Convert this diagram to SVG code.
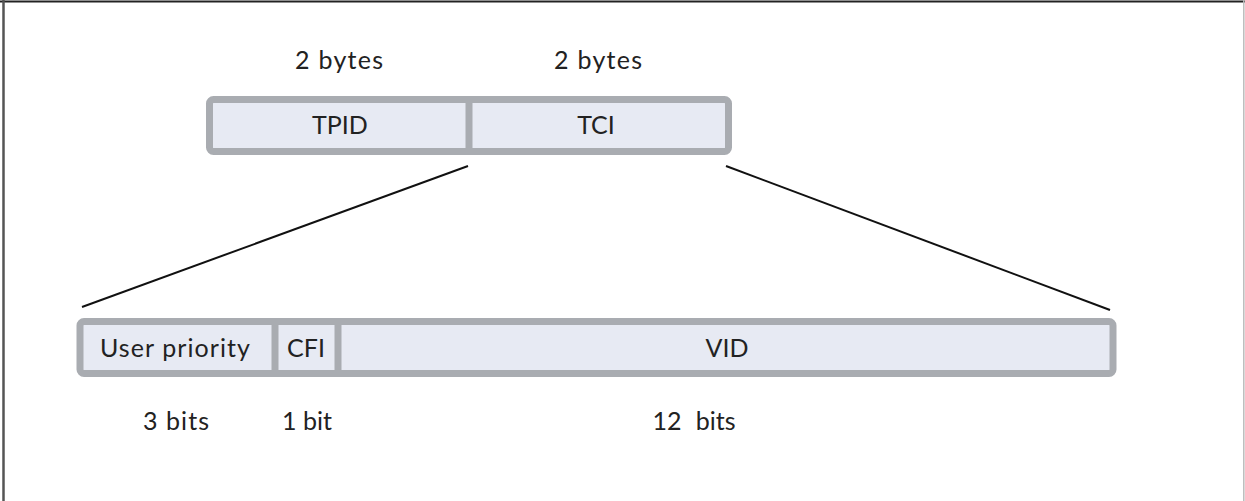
<svg xmlns="http://www.w3.org/2000/svg" width="1245" height="501" viewBox="0 0 1245 501">
<style>
.box{fill:#e7eaf3;stroke:#a9acb1;stroke-width:7}
.div{stroke:#a9acb1;stroke-width:7}
.t{font-family:Lato,"Liberation Sans",sans-serif;fill:#222;text-anchor:middle}
.lbl{font-size:25px}
.lead{stroke:#111;stroke-width:2;fill:none}
</style>
<rect width="1245" height="501" fill="#fff"/>
<g id="frame">
<line x1="0" y1="1.5" x2="1245" y2="1.5" stroke="#222" stroke-width="2"/>
<line x1="3.5" y1="0" x2="3.5" y2="501" stroke="#555" stroke-width="2.5"/>
<line x1="1243.8" y1="0" x2="1243.8" y2="501" stroke="#bbb" stroke-width="1.5"/>
</g>
<g id="top-sizes">
<text class="t lbl" x="339" y="69" textLength="88" lengthAdjust="spacing">2 bytes</text>
<text class="t lbl" x="598" y="69" textLength="88" lengthAdjust="spacing">2 bytes</text>
</g>
<g id="top-header">
<rect class="box" x="209.5" y="99.5" width="519" height="52" rx="4"/>
<line class="div" x1="469" y1="99.5" x2="469" y2="151.5"/>
</g>
<g id="tpid"><text class="t lbl" x="340" y="134">TPID</text></g>
<g id="tci"><text class="t lbl" x="596" y="134" font-size="26">TCI</text></g>
<g id="connectors">
<line class="lead" x1="468" y1="166" x2="82" y2="307"/>
<line class="lead" x1="726" y1="166" x2="1110" y2="310"/>
</g>
<g id="tci-fields">
<rect class="box" x="80" y="321.5" width="1033" height="52" rx="4"/>
<line class="div" x1="275" y1="321.5" x2="275" y2="373.5"/>
<line class="div" x1="338" y1="321.5" x2="338" y2="373.5"/>
</g>
<g id="user-priority"><text class="t lbl" x="175" y="357" textLength="150" lengthAdjust="spacing">User priority</text></g>
<g id="cfi"><text class="t lbl" x="306" y="357" font-size="26">CFI</text></g>
<g id="vid"><text class="t lbl" x="727" y="357" font-size="26">VID</text></g>
<g id="bit-sizes">
<text class="t lbl" x="176" y="430" textLength="66" lengthAdjust="spacing">3 bits</text>
<text class="t lbl" x="307" y="430">1 bit</text>
<text class="t lbl" x="694" y="430" word-spacing="8">12 bits</text>
</g>
</svg>
